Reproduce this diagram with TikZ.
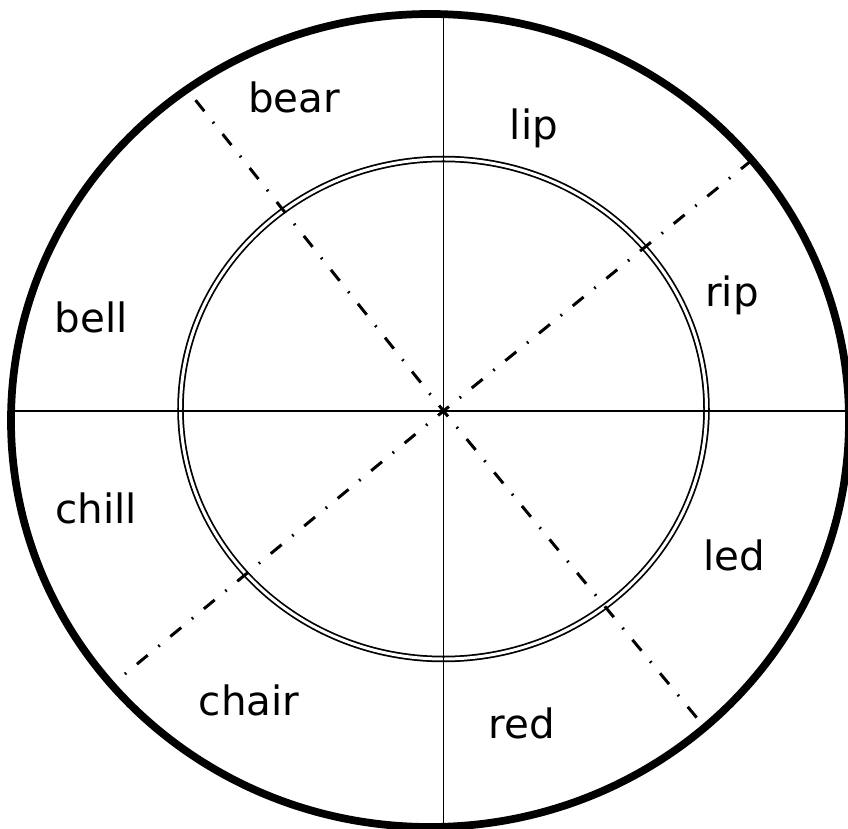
\documentclass[tikz,border=0pt]{standalone}
\usepackage{fontspec}
\setmainfont{DejaVu Sans}
\usepackage{tikz}

\begin{document}
\begin{tikzpicture}[x=0.02cm,y=0.02cm,
      every node/.style={font=\fontsize{23}{28}\selectfont,anchor=base,inner sep=0pt},
      rim/.style={line width=4.4pt},
      spoke/.style={line width=1pt},
      ring/.style={double,double distance=1.7pt,line width=1pt},
      dashdot/.style={line width=1.7pt,dash pattern=on 8pt off 7.85pt on 1pt off 7.85pt,dash phase=4pt}]
    \useasboundingbox (-443.5,-417) rectangle (404.5,411);
    \coordinate (O) at (0,0);
    \coordinate (N) at (0,397);
    \coordinate (S) at (0,-416);
    \coordinate (W) at (-432.5,0);
    \coordinate (E) at (405.5,0);
    \coordinate (A1) at (-250.5,314);
    \coordinate (A2) at (253.5,-307);
    \coordinate (B1) at (-327,-270);
    \coordinate (B2) at (308.5,251);
    \draw[ring] (0,2) ellipse [x radius=263,y radius=250];
    \draw[rim] (-13.5,-9.5) ellipse [x radius=419,y radius=406.5];
    \draw[spoke] (N) -- (S);
    \draw[spoke] (W) -- (E);
    \foreach \e in {A1,A2,B1,B2}
      \draw[dashdot] (O) -- (\e);
    \foreach \w/\x/\y in {bear/-149.5/298,lip/90.5/271,rip/288.5/104,bell/-352.5/78,
        chill/-347.5/-112,led/290.5/-159,chair/-194.5/-304,red/78.5/-327}
      \node (\w) at (\x,\y) {\w};
  \end{tikzpicture}
\end{document}
